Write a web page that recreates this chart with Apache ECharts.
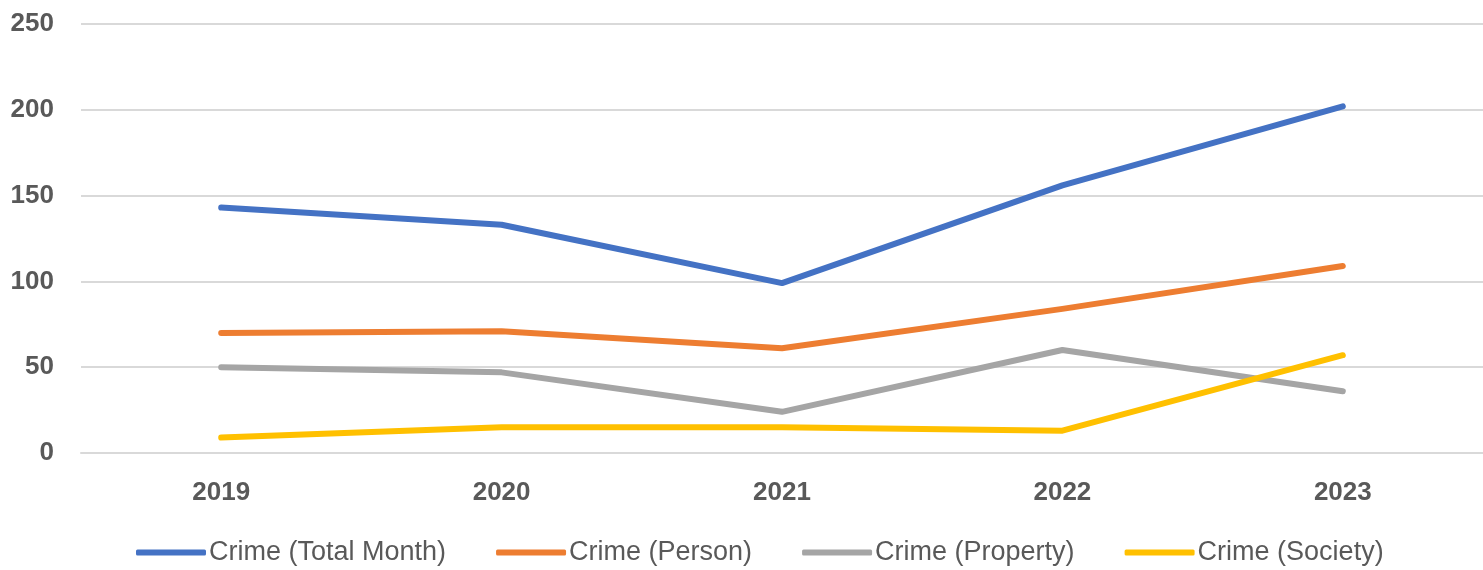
<!DOCTYPE html>
<html>
<head>
<meta charset="utf-8">
<script src="https://cdn.jsdelivr.net/npm/echarts@6/dist/echarts.min.js"></script>
<style>
  html, body { margin: 0; padding: 0; background: #fff; }
  #chart { width: 1483px; height: 570px; }
</style>
</head>
<body>
<div id="chart"></div>
<script>
// 数据
var years = ['2019', '2020', '2021', '2022', '2023'];
var totalMonth = [143, 133, 99, 156, 202];
var person = [70, 71, 61, 84, 109];
var property = [50, 47, 24, 60, 36];
var society = [9, 15, 15, 13, 57];

var names = ['Crime (Total Month)', 'Crime (Person)', 'Crime (Property)', 'Crime (Society)'];
var colors = ['#4472C4', '#ED7D31', '#A5A5A5', '#FFC000'];
var values = [totalMonth, person, property, society];

var myChart = echarts.init(document.getElementById('chart'));

var series = [];
for (var i = 0; i < names.length; i++) {
  series.push({
    name: names[i],
    type: 'line',
    data: values[i],
    symbol: 'none',
    color: colors[i],
    lineStyle: { width: 6, cap: 'round', join: 'round', color: colors[i] }
  });
}

var option = {
  animation: false,
  color: colors,
  grid: { left: 81, width: 1410, top: 24, bottom: 117 },
  legend: {
    left: 131,
    bottom: -1,
    icon: 'roundRect',
    itemWidth: 70,
    itemHeight: 6,
    itemGap: 50,
    textStyle: { fontFamily: 'Liberation Sans', fontSize: 27, color: '#595959', padding: [0, 0, 0, -2] },
    data: names
  },
  xAxis: {
    type: 'category',
    data: years,
    boundaryGap: true,
    axisLine: { lineStyle: { color: '#d9d9d9', width: 2 } },
    axisTick: { show: false },
    axisLabel: {
      margin: 27,
      fontFamily: 'Liberation Sans',
      fontWeight: 'bold',
      fontSize: 26,
      color: '#595959'
    }
  },
  yAxis: {
    type: 'value',
    min: 0,
    max: 250,
    interval: 50,
    axisLine: { show: false },
    axisTick: { show: false },
    splitLine: { lineStyle: { color: '#d9d9d9', width: 2 } },
    axisLabel: {
      margin: 27,
      fontFamily: 'Liberation Sans',
      fontWeight: 'bold',
      fontSize: 26,
      color: '#595959'
    }
  },
  series: series
};

myChart.setOption(option);
</script>
</body>
</html>
